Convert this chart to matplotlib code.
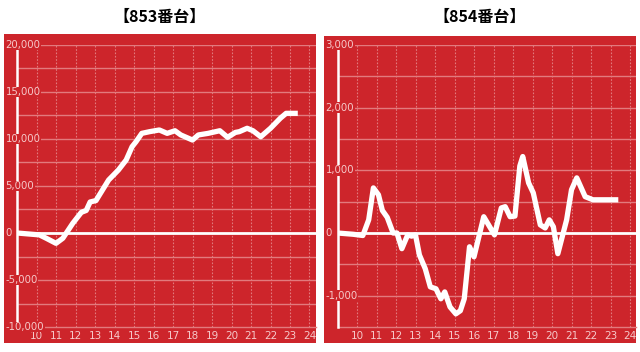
import matplotlib
matplotlib.use("Agg")
import matplotlib.pyplot as plt
from matplotlib.patches import Rectangle
from matplotlib.transforms import blended_transform_factory

# ---- data ----
titles = ["【853番台】", "【854番台】"]

hours_853 = [9, 10.15, 10.5, 11.0, 11.35, 11.86, 12.3, 12.55, 12.75, 13.05, 13.7, 14.2, 14.6, 14.9,
             15.1, 15.4, 15.8, 16.3, 16.7, 17.1, 17.4, 18.0, 18.3, 18.8, 19.4, 19.8, 20.2, 20.4,
             20.8, 21.1, 21.5, 22.0, 22.5, 22.8, 23.4]
values_853 = [0, -200, -560, -1100, -560, 1030, 2200, 2400, 3300, 3450, 5640, 6700, 7770, 9180,
              9700, 10600, 10780, 10960, 10600, 10880, 10430, 9890, 10430, 10600, 10880, 10180,
              10700, 10780, 11140, 10880, 10240, 11140, 12200, 12730, 12730]

hours_854 = [9, 9.8, 10.3, 10.6, 10.84, 11.1, 11.3, 11.55, 11.85, 12.05, 12.3, 12.6, 12.8, 13.0,
             13.2, 13.5, 13.76, 14.05, 14.3, 14.5, 14.77, 15.07, 15.3, 15.5, 15.77, 16.0, 16.5,
             17.05, 17.4, 17.6, 17.85, 18.1, 18.35, 18.5, 18.8, 19.04, 19.4, 19.65, 19.86, 20.07,
             20.3, 20.75, 21.0, 21.27, 21.7, 22.1, 23.4]
values_854 = [0, -20, -40, 210, 720, 610, 360, 250, 0, 0, -250, -30, -50, -30,
              -350, -570, -860, -890, -1050, -940, -1180, -1290, -1240, -1050, -220, -380, 260,
              -30, 400, 420, 260, 270, 1070, 1220, 800, 640, 130, 80, 210, 100,
              -330, 210, 690, 880, 580, 530, 530]

x_ticks = list(range(10, 25))
yticks_853 = [-10000, -5000, 0, 5000, 10000, 15000, 20000]
yticks_854 = [-1000, 0, 1000, 2000, 3000]

RED = "#CD252B"
LABEL = "#F6C9CA"
GRID = "#E27A7D"

W, H = 640, 352
fig = plt.figure(figsize=(W / 100, H / 100), dpi=100)
fig.patch.set_facecolor("white")

def fx(px):
    return px / W

def fy(py):
    return 1 - py / H

panels = [
    dict(rect=(4, 34, 316, 343), ax_left=17, ax_right=316, hours=hours_853, vals=values_853,
         yticks=yticks_853, ylim=(-10000, 20000), minor=2500, title=titles[0], tx=160),
    dict(rect=(324, 36, 636, 343), ax_left=337.5, ax_right=636, hours=hours_854, vals=values_854,
         yticks=yticks_854, ylim=(-1500, 3000), minor=500, title=titles[1], tx=480),
]

top_px, bot_px = 45, 327
for p in panels:
    x0, y0, x1, y1 = p["rect"]
    bg = Rectangle((fx(x0), fy(y1)), fx(x1 - x0), (y1 - y0) / H,
                   transform=fig.transFigure, facecolor=RED, edgecolor="none")
    bg.set_zorder(-10)
    fig.add_artist(bg)
    ax = fig.add_axes([fx(p["ax_left"]), fy(bot_px), fx(p["ax_right"] - p["ax_left"]),
                       (bot_px - top_px) / H])
    ax.set_zorder(5)
    ax.set_facecolor("none")
    xmax = 9 + (p["ax_right"] - p["ax_left"]) / 19.5
    ax.set_xlim(9, xmax)
    ax.set_ylim(*p["ylim"])
    for s in ["top", "right"]:
        ax.spines[s].set_visible(False)
    ax.spines["left"].set_color("white")
    ax.spines["left"].set_linewidth(1.8)
    ax.spines["left"].set_zorder(3)
    ax.spines["bottom"].set_color(GRID)
    ax.spines["bottom"].set_linewidth(1.0)

    # horizontal grid
    lo, hi = p["ylim"]
    v = lo + p["minor"]
    while v <= hi + 1:
        if v != 0:
            ax.axhline(v, color=GRID, lw=1.0, zorder=1)
        v += p["minor"]
    # vertical dotted grid
    for h in x_ticks:
        ax.axvline(h, color=GRID, lw=0.8, ls=(0, (1.5, 1.5)), zorder=1)
    ax.axhline(0, color="white", lw=2.0, zorder=2)

    ax.plot(p["hours"], p["vals"], color="white", lw=3.8, solid_joinstyle="round",
            solid_capstyle="butt", zorder=4)

    ax.set_xticks(x_ticks)
    ax.set_xticklabels([str(t) for t in x_ticks], color=LABEL, fontsize=7.5)
    ax.tick_params(axis="x", length=0, pad=3)
    ax.set_yticks([])

    tr = blended_transform_factory(ax.transAxes, ax.transData)
    xa = (p["rect"][0] + 1.5 - p["ax_left"]) / (p["ax_right"] - p["ax_left"])
    for t in p["yticks"]:
        ax.text(xa, t, f"{t:,}", transform=tr, ha="left", va="center", color=LABEL,
                fontsize=7.3, zorder=5, clip_on=False,
                bbox=dict(facecolor=RED, edgecolor="none", pad=0.3))

    fig.text(fx(p["tx"]), fy(17), p["title"], ha="center", va="center",
             fontsize=11.5, fontweight="bold", color="black",
             family=["Noto Sans CJK JP", "DejaVu Sans"])

fig.savefig("out.png", dpi=100, facecolor="white")
